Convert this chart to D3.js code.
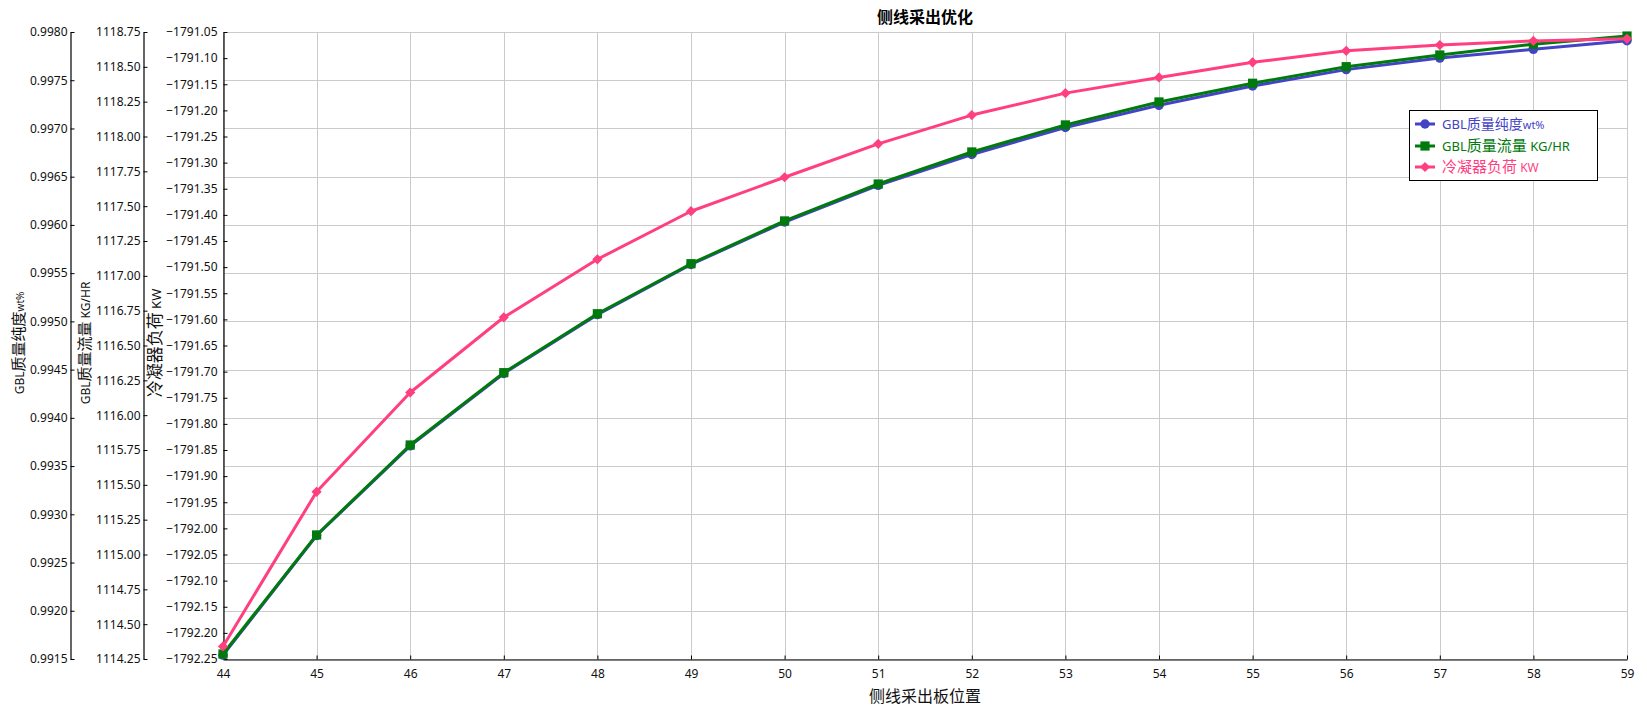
<!DOCTYPE html>
<html>
<head>
<meta charset="utf-8">
<script src="https://cdn.jsdelivr.net/npm/d3@7"></script>
<style>
  html, body { margin: 0; padding: 0; background: #fff; }
  svg { display: block; }
  text { font-family: "Noto Sans", "Noto Sans CJK SC", sans-serif; }
  .cjk { font-family: "Noto Sans CJK SC", "Noto Sans", sans-serif; }
</style>
</head>
<body>
<div id="chart"></div>
<script>
(function () {
    'use strict';

    // side draw plate position
    var plates = [44, 45, 46, 47, 48, 49, 50, 51, 52, 53, 54, 55, 56, 57, 58, 59];

    // GBL purity wt%
    var purity = [0.99154, 0.99278, 0.99371, 0.99446, 0.99507, 0.99559, 0.99603, 0.99641,
                  0.99673, 0.99701, 0.99724, 0.99744, 0.99761, 0.99773, 0.99782, 0.99791];

    // GBL mass flow KG/HR
    var massFlow = [1114.286, 1115.140, 1115.786, 1116.305, 1116.728, 1117.087, 1117.394, 1117.659,
                    1117.889, 1118.083, 1118.248, 1118.382, 1118.501, 1118.585, 1118.662, 1118.721];

    // condenser duty KW
    var duty = [-1792.226, -1791.930, -1791.740, -1791.596, -1791.485, -1791.393, -1791.328, -1791.264,
                -1791.209, -1791.167, -1791.137, -1791.108, -1791.086, -1791.075, -1791.067, -1791.063];

    var purityTicks = d3.range(0, 14).map(function (i) { return 0.9915 + i * 0.0005; });
    var flowTicks = d3.range(0, 19).map(function (i) { return 1114.25 + i * 0.25; });
    var dutyTicks = d3.range(0, 25).map(function (i) { return -1792.25 + i * 0.05; });

    var width = 1647,
        height = 716,
        plot = { left: 223, right: 1627, top: 32, bottom: 659 },
        BLUE = "#4343c6",
        GREEN = "#007a0c",
        PINK = "#ff3f7f",
        GRID = "#cbcbcb";

    var svg = d3.select("#chart").append("svg")
        .attr("width", width)
        .attr("height", height);

    var x = d3.scaleLinear().domain([44, 59]).range([plot.left, plot.right]);
    var yPurity = d3.scaleLinear().domain([0.9915, 0.9980]).range([plot.bottom, plot.top]);
    var yFlow = d3.scaleLinear().domain([1114.25, 1118.75]).range([plot.bottom, plot.top]);
    var yDuty = d3.scaleLinear().domain([-1792.25, -1791.05]).range([plot.bottom, plot.top]);

    //grid lines
    var grid = svg.append("g").attr("class", "grid");
    grid.selectAll(".hgrid")
        .data(purityTicks)
        .enter()
        .append("line")
        .attr("x1", plot.left)
        .attr("x2", plot.right)
        .attr("y1", function (d) { return Math.round(yPurity(d)) + 0.5; })
        .attr("y2", function (d) { return Math.round(yPurity(d)) + 0.5; })
        .attr("stroke", GRID);
    grid.selectAll(".vgrid")
        .data(plates)
        .enter()
        .append("line")
        .attr("y1", plot.top)
        .attr("y2", plot.bottom)
        .attr("x1", function (d) { return Math.round(x(d)) + 0.5; })
        .attr("x2", function (d) { return Math.round(x(d)) + 0.5; })
        .attr("stroke", GRID);

    //axes
    function styleAxis(g) {
        g.selectAll(".domain").attr("stroke", "#000").attr("stroke-width", 1.2);
        g.selectAll(".tick line").attr("stroke", "#000");
        g.selectAll(".tick text")
            .attr("fill", "#111")
            .style("font-size", "12px")
            .style("font-family", "'Noto Sans', sans-serif");
    }

    svg.append("g")
        .attr("transform", "translate(70.5,0)")
        .call(d3.axisLeft(yPurity).tickValues(purityTicks).tickFormat(d3.format(".4f"))
            .tickSizeInner(-4).tickSizeOuter(0).tickPadding(3))
        .call(styleAxis);

    svg.append("g")
        .attr("transform", "translate(143.5,0)")
        .call(d3.axisLeft(yFlow).tickValues(flowTicks).tickFormat(d3.format(".2f"))
            .tickSizeInner(-4).tickSizeOuter(0).tickPadding(3))
        .call(styleAxis);

    svg.append("g")
        .attr("transform", "translate(" + (plot.left + 0.5) + ",0)")
        .call(d3.axisLeft(yDuty).tickValues(dutyTicks).tickFormat(d3.format(".2f"))
            .tickSizeInner(-4).tickSizeOuter(0).tickPadding(6))
        .call(styleAxis);

    svg.append("g")
        .attr("transform", "translate(0," + (plot.bottom + 0.5) + ")")
        .call(d3.axisBottom(x).tickValues(plates).tickFormat(d3.format("d"))
            .tickSizeInner(-4).tickSizeOuter(0).tickPadding(10))
        .call(styleAxis);

    //series (diamond = square turned 45 degrees)
    var series = [
        { name: "purity", values: purity, y: yPurity, color: BLUE, symbol: d3.symbolCircle, size: 70, rot: 0 },
        { name: "flow", values: massFlow, y: yFlow, color: GREEN, symbol: d3.symbolSquare, size: 85, rot: 0 },
        { name: "duty", values: duty, y: yDuty, color: PINK, symbol: d3.symbolSquare, size: 52, rot: 45 }
    ];

    series.forEach(function (s) {
        var line = d3.line()
            .x(function (d, i) { return x(plates[i]); })
            .y(function (d) { return s.y(d); });

        var g = svg.append("g").attr("class", "series-" + s.name);
        g.append("path")
            .datum(s.values)
            .attr("d", line)
            .attr("fill", "none")
            .attr("stroke", s.color)
            .attr("stroke-width", 3)
            .attr("stroke-linejoin", "round");

        g.selectAll("path.marker")
            .data(s.values)
            .enter()
            .append("path")
            .attr("class", "marker")
            .attr("d", d3.symbol().type(s.symbol).size(s.size))
            .attr("fill", s.color)
            .attr("transform", function (d, i) {
                return "translate(" + x(plates[i]) + "," + s.y(d) + ") rotate(" + s.rot + ")";
            });
    });

    //titles
    svg.append("text")
        .attr("class", "cjk")
        .attr("x", (plot.left + plot.right) / 2)
        .attr("y", 23)
        .attr("text-anchor", "middle")
        .style("font-size", "16px")
        .style("font-weight", "bold")
        .text("侧线采出优化");

    svg.append("text")
        .attr("class", "cjk")
        .attr("x", (plot.left + plot.right) / 2)
        .attr("y", 702)
        .attr("text-anchor", "middle")
        .style("font-size", "16px")
        .attr("fill", "#111")
        .text("侧线采出板位置");

    function axisTitle(cx, parts) {
        var t = svg.append("text")
            .attr("transform", "translate(" + cx + ",343) rotate(-90)")
            .attr("text-anchor", "middle")
            .attr("fill", "#111");
        parts.forEach(function (p) {
            t.append("tspan")
                .style("font-size", p[1] + "px")
                .style("font-family", p[2] ? "'Noto Sans CJK SC', sans-serif" : "'Noto Sans', sans-serif")
                .text(p[0]);
        });
        return t;
    }

    axisTitle(24, [["GBL", 12], ["质量纯度", 15, true], ["wt%", 10]]);
    axisTitle(90, [["GBL", 12], ["质量流量", 15, true], [" KG/HR", 12]]);
    axisTitle(161, [["冷凝器负荷", 17, true], [" KW", 13]]);

    //legend
    var legend = svg.append("g").attr("class", "legend");
    legend.append("rect")
        .attr("x", 1409.5)
        .attr("y", 110.5)
        .attr("width", 188)
        .attr("height", 70)
        .attr("fill", "#fff")
        .attr("stroke", "#000");

    var legendItems = [
        { s: series[0], y: 124, parts: [["GBL", 13], ["质量纯度", 14, true], ["wt%", 11]] },
        { s: series[1], y: 146, parts: [["GBL", 13], ["质量流量", 15, true], [" KG/HR", 13]] },
        { s: series[2], y: 167, parts: [["冷凝器负荷", 15, true], [" KW", 12]] }
    ];

    legendItems.forEach(function (item) {
        legend.append("line")
            .attr("x1", 1415)
            .attr("x2", 1435)
            .attr("y1", item.y)
            .attr("y2", item.y)
            .attr("stroke", item.s.color)
            .attr("stroke-width", 3);
        legend.append("path")
            .attr("d", d3.symbol().type(item.s.symbol).size(item.s.size))
            .attr("fill", item.s.color)
            .attr("transform", "translate(1425," + item.y + ") rotate(" + item.s.rot + ")");
        var t = legend.append("text")
            .attr("x", 1442)
            .attr("y", item.y + 5)
            .attr("fill", item.s.color);
        item.parts.forEach(function (p) {
            t.append("tspan")
                .style("font-size", p[1] + "px")
                .style("font-family", p[2] ? "'Noto Sans CJK SC', sans-serif" : "'Noto Sans', sans-serif")
                .text(p[0]);
        });
    });
})();
</script>
</body>
</html>
